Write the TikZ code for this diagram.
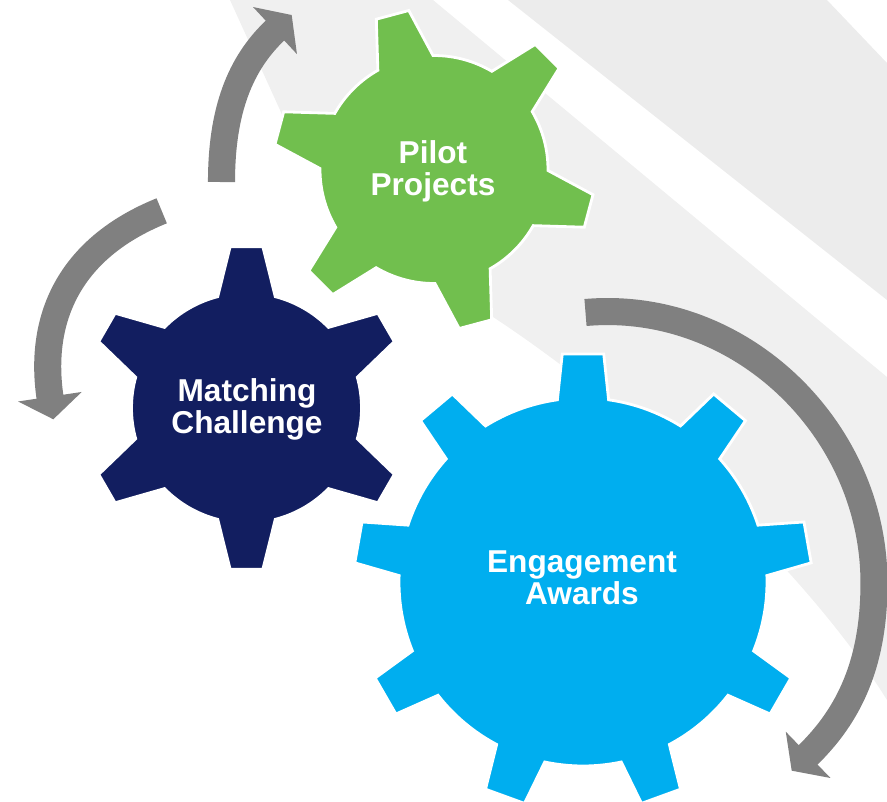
\documentclass[tikz,border=0pt]{standalone}
\usepackage{fontspec}
\setmainfont{Liberation Sans}
\usetikzlibrary{arrows.meta}
\definecolor{pilotgreen}{RGB}{113,191,78}
\definecolor{matchnavy}{RGB}{18,30,96}
\definecolor{awardblue}{RGB}{0,174,239}
\definecolor{arrowgray}{RGB}{128,128,128}
\definecolor{swoosh}{RGB}{236,236,236}
\definecolor{swooshlight}{RGB}{240,240,240}

% colour, centre, teeth, first tooth angle, body radius, tip radius, half base angle, half tip angle
\newcommand{\drawgear}[8]{%
\filldraw[fill=#1,draw=white,line width=1.6pt,shift={#2}] ({#4-#7}:#5)
  \foreach \k [evaluate=\k as \tang using #4+360*(\k-1)/#3] in {1,...,#3}{
    -- ({\tang-#8}:#6) -- ({\tang+#8}:#6) -- ({\tang+#7}:#5)
    arc ({\tang+#7}:{\tang+360/#3-#7}:#5)} -- cycle;}

\begin{document}
\begin{tikzpicture}[x=0.02cm,y=0.02cm]
\tikzstyle{gearlabel}=[text=white,font=\bfseries\fontsize{18}{18}\selectfont,align=center]
\tikzstyle{turn}=[arrowgray,line width=15.4pt,-{Triangle[width=36pt,length=13pt]}]
\useasboundingbox (0,0) rectangle (887,-802);
\fill[swoosh] (508,0) -- (827,0) -- (887,-63) -- (887,-300) -- cycle;
\fill[swooshlight] (230,0) -- (433,0) -- (887,-377) -- (887,-700)
  .. controls (800,-560) and (620,-400) .. (493,-317)
  .. controls (400,-255) and (300,-165) .. (280,-110) -- cycle;
\drawgear{matchnavy}{(246.5,-408)}{6}{90}{115}{162}{14.5}{5.8}
\drawgear{pilotgreen}{(434,-169.5)}{6}{45}{114}{161}{14.5}{6}
\drawgear{awardblue}{(583,-582)}{9}{90}{184}{229}{8}{5.2}
\node[gearlabel] (0) at (433,-171.5) {Pilot\\Projects};
\node[gearlabel] (1) at (247,-409.5) {Matching\\Challenge};
\node[gearlabel] (2) at (582,-577.5) {Engagement\\Awards};
\coordinate (a0) at (221.5,-182);
\coordinate (a1) at (291.7,-15);
\coordinate (b0) at (161.7,-210.8);
\coordinate (b1) at (53.3,-419.3);
\coordinate (c0) at (585.5,-312.5);
\coordinate (c1) at (874,-583);
\coordinate (c2) at (791.7,-770.7);
\draw[turn] (a0) to[out=90,in=223] (a1);
\draw[turn] (b0) to[out=202,in=98.5,looseness=1.1] (b1);
\draw[turn] (c0) to[out=5,in=90] (c1) to[out=-90,in=44] (c2);
\end{tikzpicture}
\end{document}
